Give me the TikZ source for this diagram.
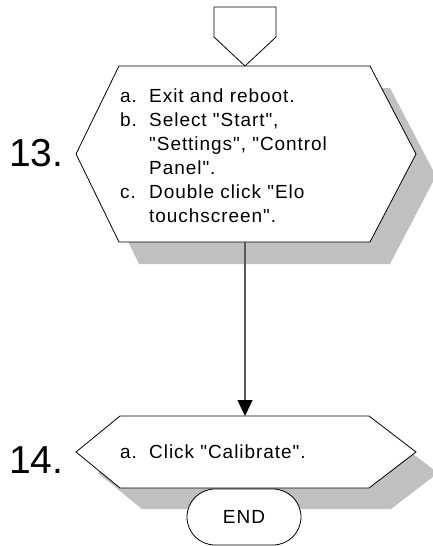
\documentclass[tikz,border=0pt]{standalone}
\usepackage{fontspec}
\setmainfont{Liberation Sans}
\newfontfamily\flowsp{Liberation Sans}[LetterSpace=5]
\newfontfamily\flownum{Liberation Sans}
\usetikzlibrary{arrows.meta,shapes.misc}
\definecolor{shadowgray}{HTML}{C0C0C0}
\definecolor{linegray}{HTML}{5A5A5A}
\tikzset{
  outline/.style={draw=black,line width=0.8pt,fill=white,line join=miter},
  shadowpoly/.style={fill=shadowgray,draw=none},
  steptext/.style={inner sep=0pt,anchor=base west,font=\flowsp\fontsize{19}{24}\selectfont},
  stepnum/.style={inner sep=0pt,anchor=base west,font=\flownum\fontsize{39}{44}\selectfont},
  flowline/.style={draw=linegray,line width=1.3pt,-{Triangle[length=16pt,width=15pt,color=black]}},
  endbox/.style={rounded rectangle,outline,minimum width=114pt,minimum height=56pt,inner sep=0pt,font=\flowsp\fontsize{19}{24}\selectfont}
}
\begin{document}
\begin{tikzpicture}[x=1pt,y=-1pt]
\useasboundingbox (0,0) rectangle (433,546);
\clip (0,0) rectangle (433,546);
% shadows
\fill[shadowpoly] (139,88) -- (390,88) -- (436,176) -- (390,264) -- (139,264) -- (96,176) -- cycle;
\fill[shadowpoly] (142,437) -- (391,437) -- (438,473) -- (391,509) -- (142,509) -- (98,473) -- cycle;
% off-page connector
\draw[outline] (214,7) -- (276,7) -- (276,37) -- (245,66) -- (214,37) -- cycle;
% hexagon 13
\draw[outline] (119,66) -- (370,66) -- (416,154) -- (370,242) -- (119,242) -- (76,154) -- cycle;
\coordinate (h13top) at (245,66);
\coordinate (h13bot) at (245,242);
% hexagon 14
\draw[outline] (120,416) -- (369,416) -- (416,452) -- (369,488) -- (120,488) -- (76,452) -- cycle;
\coordinate (h14top) at (245,416);
% texts
\node[stepnum] (n13) at (9,166) {13.};
\node[stepnum] (n14) at (9,473) {14.};
\node[steptext] (t13) at (120,102) {\begin{tabular}[t]{@{}p{29pt}@{}l@{}}
a. & Exit and reboot.\\
b. & Select "Start",\\
 & "Settings", "Control\\
 & Panel".\\
c. & Double click "Elo\\
 & touchscreen".
\end{tabular}};
\node[steptext] (t14) at (120,458) {\begin{tabular}[t]{@{}p{29pt}@{}l@{}}
a. & Click "Calibrate".
\end{tabular}};
% connector
\draw[flowline] (h13bot) -- (h14top);
% end
\node[endbox] (end) at (244,517) {END};
\end{tikzpicture}
\end{document}
